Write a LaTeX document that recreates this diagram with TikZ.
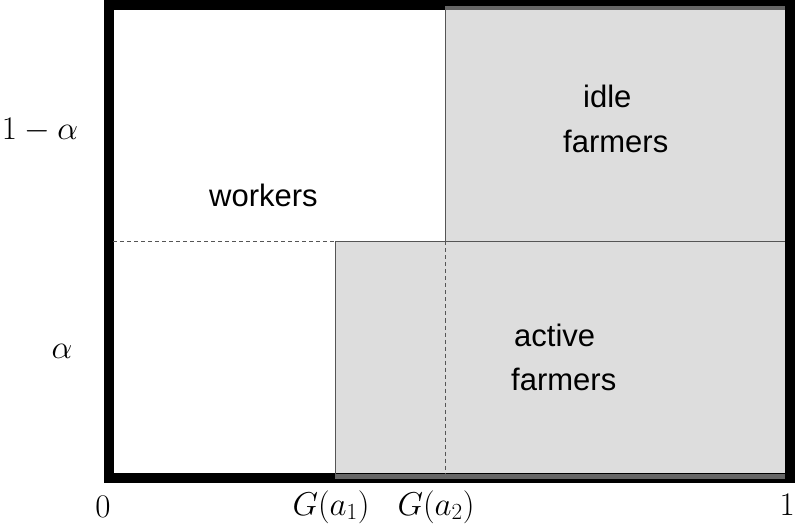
\RequirePackage{fix-cm}
\documentclass[tikz,border=0pt]{standalone}
\usepackage{fontspec}
\setmainfont{Liberation Sans}
\usetikzlibrary{calc}
\definecolor{fillgray}{HTML}{DDDDDD}
\definecolor{edgegray}{HTML}{666666}
\definecolor{linegray}{HTML}{555555}
\tikzset{
  region/.style={fill=fillgray, draw=none},
  frame/.style={line width=10pt, draw=black},
  rim/.style={draw=edgegray},
  divider/.style={draw=linegray, line width=1pt},
  guide/.style={draw=linegray, line width=1pt, dash pattern=on 4pt off 3pt},
  word/.style={inner sep=0pt, anchor=base west, font=\fontsize{31}{36}\selectfont},
  mathlabel/.style={inner sep=0pt, font=\fontsize{33}{40}\selectfont}
}
\begin{document}
\begin{tikzpicture}[x=1pt, y=-1pt]
\useasboundingbox (0,0) rectangle (795,529);
% corner coordinates
\coordinate (TL) at (108.5,5);
\coordinate (TR) at (790,5);
\coordinate (BR) at (790,478);
\coordinate (BL) at (108.5,478);
\coordinate (mid) at (445,241.5);
\coordinate (midtop) at (445,10);
\coordinate (midbot) at (445,474);
\coordinate (a1top) at (335,241.5);
\coordinate (a1bot) at (335,474);
\coordinate (leftmid) at (113,241.5);
\coordinate (rightmid) at (785,241.5);
% shaded regions
\fill[region] (445,5) rectangle (790,241.5);
\fill[region] (335,241.5) rectangle (790,478);
% outer frame
\draw[frame] (TL) -- (TR) -- (BR) -- (BL) -- cycle;
% dark rims of shaded regions
\draw[rim, line width=4pt] (445,8) -- (785,8);
\draw[rim, line width=5pt] (335,476.5) -- (785,476.5);
% inner dividing lines
\draw[divider] (midtop) -- (mid);
\draw[divider] (a1top) -- (rightmid);
\draw[divider] (a1top) -- (a1bot);
\draw[guide] (leftmid) -- (a1top);
\draw[guide] (mid) -- (midbot);
% region labels
\node[word] (workers) at (209,207) {workers};
\node[word] (idle) at (583,108) {idle};
\node[word] (idlefarmers) at (563,153) {farmers};
\node[word] (active) at (514,346) {active};
\node[word] (activefarmers) at (511,390) {farmers};
% axis labels
\node[mathlabel] (oneminus) at (40,130) {$1-\alpha$};
\node[mathlabel] (alpha) at (62,351) {$\alpha$};
\node[mathlabel] (zero) at (103,507) {$0$};
\node[mathlabel, anchor=base] (ga1) at (331,515) {$G\bigl(a_1\bigr)$};
\node[mathlabel, anchor=base] (ga2) at (436,515) {$G\bigl(a_2\bigr)$};
\node[mathlabel, anchor=base east] (one) at (795,515) {$1$};
\end{tikzpicture}
\end{document}
